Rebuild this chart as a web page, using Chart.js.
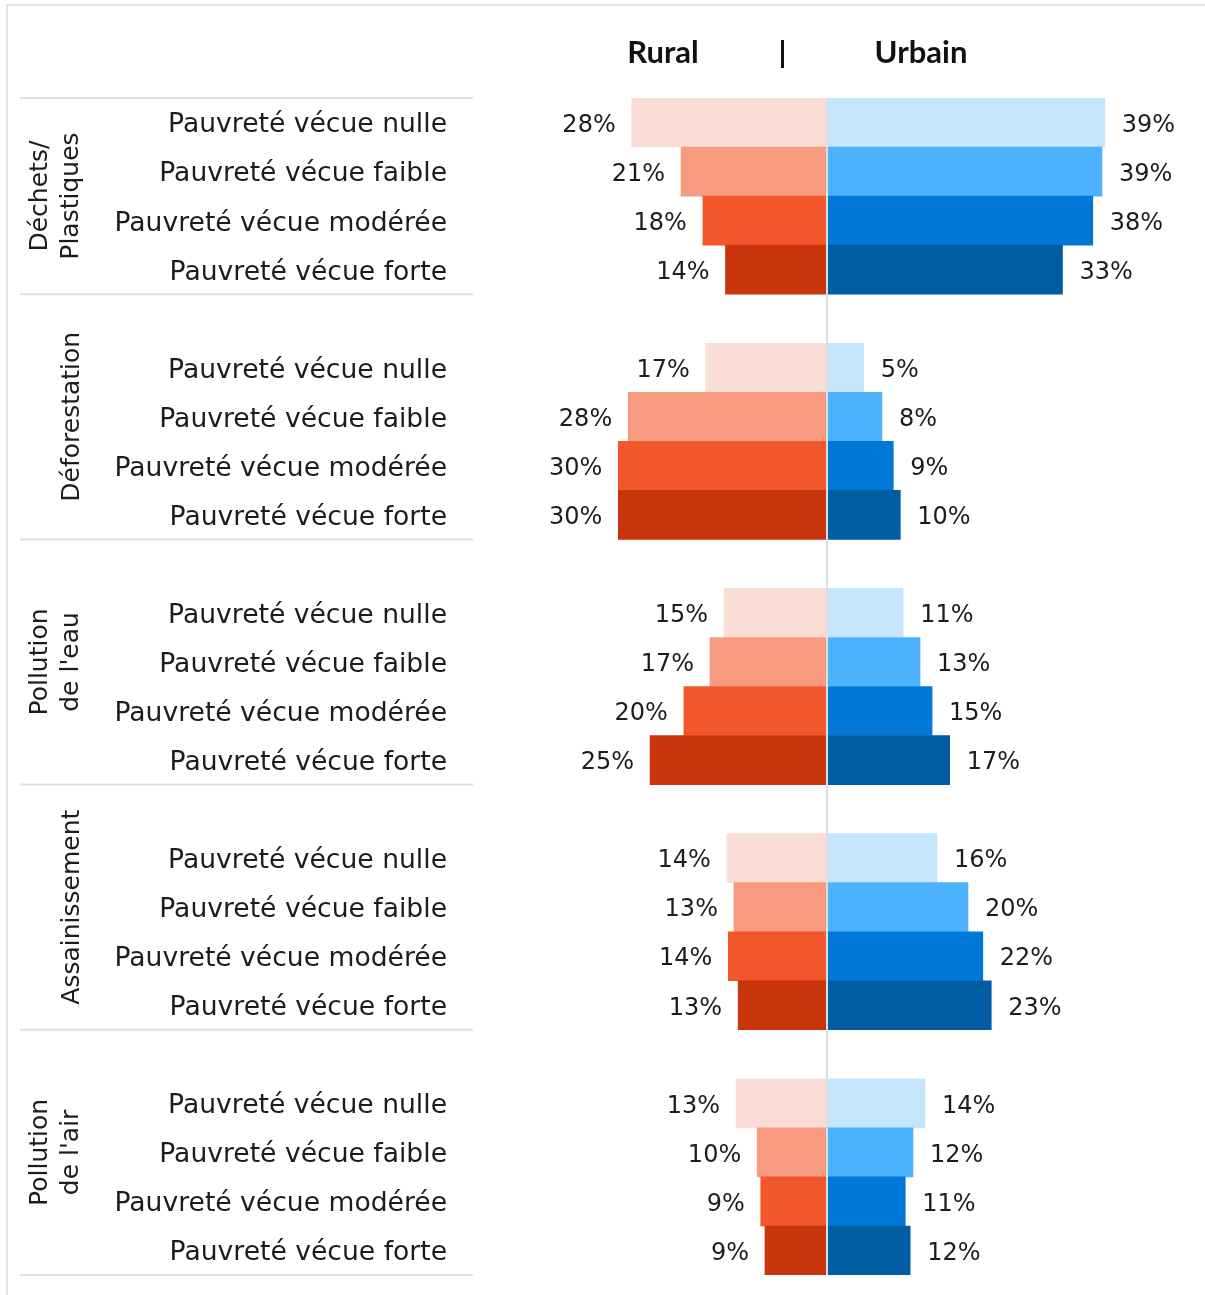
<!DOCTYPE html>
<html>
<head>
<meta charset="utf-8">
<script src="https://cdn.jsdelivr.net/npm/chart.js@4.4.1/dist/chart.umd.min.js"></script>
<style>
  body { margin: 0; background: #fff; }
  #wrap { width: 1205px; height: 1295px; }
</style>
</head>
<body>
<div id="wrap"><canvas id="graficoPauvrete" width="1205" height="1295"></canvas></div>
<script>
// Données
const groupes = [['Déchets/', 'Plastiques'], ['Déforestation'], ['Pollution', "de l'eau"], ['Assainissement'], ['Pollution', "de l'air"]];
const niveaux = ['Pauvreté vécue nulle', 'Pauvreté vécue faible', 'Pauvreté vécue modérée', 'Pauvreté vécue forte'];
const rural = [
    [27.7, 20.7, 17.6, 14.4],
    [17.2, 28.2, 29.6, 29.6],
    [14.6, 16.6, 20.3, 25.1],
    [14.2, 13.2, 14.0, 12.6],
    [12.9, 9.9, 9.4, 8.8]
];
const urbain = [
    [39.4, 39.0, 37.7, 33.4],
    [5.2, 7.8, 9.4, 10.4],
    [10.8, 13.2, 14.9, 17.4],
    [15.6, 20.0, 22.1, 23.3],
    [13.9, 12.2, 11.1, 11.8]
];
const couleursRural = ['#FADDD4', '#F79A80', '#F2572B', '#C8350D'];
const couleursUrbain = ['#C5E5FD', '#4DB3FF', '#0078D7', '#005CA3'];

// lignes : une ligne vide avant chaque groupe sauf le premier
const labels = [], dataRural = [], dataUrbain = [], colR = [], colU = [], groupeDe = [];
groupes.forEach((g, gi) => {
    if (gi > 0) {
        labels.push(''); dataRural.push(null); dataUrbain.push(null);
        colR.push('#fff'); colU.push('#fff'); groupeDe.push(-1);
    }
    niveaux.forEach((n, ni) => {
        labels.push(n);
        dataRural.push(-rural[gi][ni]);
        dataUrbain.push(urbain[gi][ni]);
        colR.push(couleursRural[ni]);
        colU.push(couleursUrbain[ni]);
        groupeDe.push(gi);
    });
});

const TXT = '#1c1c1c';
const police = "'DejaVu Sans', sans-serif";

const decor = {
    id: 'decor',
    afterDatasetsDraw(chart) {
        const ctx = chart.ctx;
        const x = chart.scales.x, y = chart.scales.y;
        const area = chart.chartArea;
        const pas = y.getPixelForValue(1) - y.getPixelForValue(0);
        ctx.save();

        // cadre
        ctx.strokeStyle = '#e2e2e2';
        ctx.lineWidth = 2;
        ctx.beginPath();
        ctx.moveTo(7, 1295); ctx.lineTo(7, 5); ctx.lineTo(1205, 5);
        ctx.stroke();

        // séparateurs + étiquettes de groupe
        let haut = area.top;
        ctx.strokeStyle = '#e0e0e0';
        ctx.beginPath(); ctx.moveTo(20, haut); ctx.lineTo(473, haut); ctx.stroke();
        groupes.forEach((g, gi) => {
            const dernier = groupeDe.lastIndexOf(gi);
            const bas = y.getPixelForValue(dernier) + pas / 2;
            ctx.strokeStyle = '#e0e0e0';
            ctx.beginPath(); ctx.moveTo(20, bas); ctx.lineTo(473, bas); ctx.stroke();
            const cy = (haut + bas) / 2;
            ctx.fillStyle = TXT;
            ctx.font = '25px ' + police;
            ctx.textAlign = 'center';
            ctx.textBaseline = 'middle';
            g.forEach((ligne, li) => {
                const cx = g.length === 1 ? 72 : 40 + li * 31;
                ctx.save();
                ctx.translate(cx, cy);
                ctx.rotate(-Math.PI / 2);
                ctx.fillText(ligne, 0, 0);
                ctx.restore();
            });
            haut = bas;
        });

        // étiquettes des lignes
        ctx.fillStyle = TXT;
        ctx.font = '26.6px ' + police;
        ctx.textAlign = 'right';
        ctx.textBaseline = 'middle';
        labels.forEach((l, i) => {
            if (l) ctx.fillText(l, 447, y.getPixelForValue(i) + 3);
        });

        // valeurs
        ctx.font = '24px ' + police;
        chart.data.datasets.forEach((ds, di) => {
            chart.getDatasetMeta(di).data.forEach((el, i) => {
                const v = ds.data[i];
                if (v === null) return;
                const txt = Math.round(Math.abs(v)) + '%';
                if (di === 0) {
                    ctx.textAlign = 'right';
                    ctx.fillText(txt, el.x - 16, el.y + 3);
                } else {
                    ctx.textAlign = 'left';
                    ctx.fillText(txt, el.x + 17, el.y + 3);
                }
            });
        });

        // axe central
        const x0 = x.getPixelForValue(0);
        ctx.strokeStyle = '#dedede';
        ctx.lineWidth = 2;
        ctx.beginPath(); ctx.moveTo(x0, area.top); ctx.lineTo(x0, area.bottom); ctx.stroke();

        // en-têtes
        ctx.fillStyle = '#111';
        ctx.font = "bold 31px Lato, sans-serif";
        ctx.textAlign = 'center';
        ctx.textBaseline = 'middle';
        ctx.fillText('Rural', 663, 53);
        ctx.fillText('Urbain', 921, 53);
        ctx.fillRect(781, 40, 3, 28);
        ctx.restore();
    }
};

new Chart(document.getElementById('graficoPauvrete').getContext('2d'), {
    type: 'bar',
    data: {
        labels: labels,
        datasets: [{
            label: 'Rural',
            data: dataRural,
            backgroundColor: colR,
            borderWidth: 0,
            barPercentage: 1,
            categoryPercentage: 1
        }, {
            label: 'Urbain',
            data: dataUrbain,
            backgroundColor: colU,
            borderWidth: 0,
            barPercentage: 1,
            categoryPercentage: 1
        }]
    },
    options: {
        indexAxis: 'y',
        responsive: false,
        animation: false,
        devicePixelRatio: 1,
        layout: { padding: { left: 474.5, right: 25.5, top: 98, bottom: 20 } },
        plugins: { legend: { display: false }, tooltip: { enabled: false } },
        scales: {
            x: { display: false, stacked: true, min: -50, max: 50 },
            y: { display: false, stacked: true }
        }
    },
    plugins: [decor]
});
</script>
</body>
</html>
